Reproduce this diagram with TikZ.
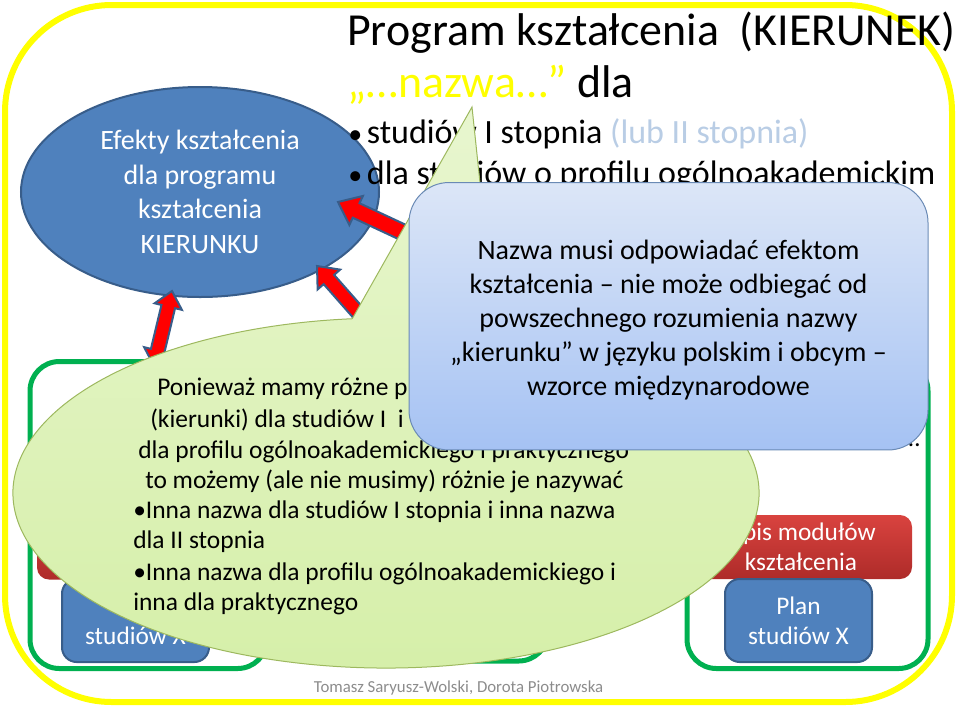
\documentclass[tikz,border=0pt]{standalone}
\usepackage{fontspec}
\setmainfont{Carlito}
\usetikzlibrary{calc,shapes.geometric}
\definecolor{sl-yellow}{HTML}{FFFF00}
\definecolor{sl-green}{HTML}{00B050}
\definecolor{sl-blue}{HTML}{4F81BD}
\definecolor{sl-blueedge}{HTML}{385D8A}
\definecolor{sl-red}{HTML}{FF0000}
\definecolor{sl-redtop}{HTML}{D9433F}
\definecolor{sl-redbot}{HTML}{AE2B29}
\definecolor{sl-calltop}{HTML}{DCE6F7}
\definecolor{sl-callbot}{HTML}{A5C2F3}
\definecolor{sl-calledge}{HTML}{6A8AB5}
\definecolor{sl-limetop}{HTML}{E8F6CF}
\definecolor{sl-limebot}{HTML}{D5EFA8}
\definecolor{sl-limeedge}{HTML}{9DB85E}
\definecolor{sl-grey}{HTML}{8C8C8C}
\definecolor{sl-pale}{HTML}{B9CDE5}

% double block arrow: start, end, shaft half width, head half width, head length
\newcommand{\dblarrow}[5]{%
  \coordinate (ha) at ($(#1)!#5!(#2)$);
  \coordinate (hb) at ($(#2)!#5!(#1)$);
  \draw[redarrow] (#1) -- ($(ha)!#4!90:(#2)$) -- ($(ha)!#3!90:(#2)$)
    -- ($(hb)!#3!-90:(#1)$) -- ($(hb)!#4!-90:(#1)$) -- (#2)
    -- ($(hb)!#4!90:(#1)$) -- ($(hb)!#3!90:(#1)$)
    -- ($(ha)!#3!-90:(#2)$) -- ($(ha)!#4!-90:(#2)$) -- cycle;}
\newcommand{\bigdot}{\makebox[14pt][l]{\fontsize{21}{21}\selectfont•}}

\begin{document}
\begin{tikzpicture}[
  x=0.75pt,y=-0.75pt,
  grnbox/.style={draw=sl-green,line width=3.75pt,rounded corners=22pt,inner sep=0},
  modbox/.style={top color=sl-redtop,bottom color=sl-redbot,rounded corners=9pt,
                 minimum width=166.5pt,minimum height=48pt,inner sep=0,align=center,
                 text=white,font=\fontsize{19}{22.5}\selectfont},
  planbox/.style={fill=sl-blue,draw=sl-blueedge,line width=1.5pt,rounded corners=11pt,
                  minimum width=110.25pt,minimum height=62.25pt,inner sep=0,align=center,
                  text=white,font=\fontsize{19}{22.5}\selectfont},
  redarrow/.style={fill=sl-red,draw=sl-blueedge,line width=1.5pt,line join=miter},
  headline/.style={anchor=base west,inner sep=0,font=\fontsize{34.4}{40}\selectfont},
  bulletline/.style={anchor=base west,inner sep=0,font=\fontsize{25.5}{30}\selectfont},
  limetext/.style={anchor=base west,inner sep=0,font=\fontsize{19.1}{23}\selectfont}
]
\useasboundingbox (0,0) rectangle (960,708);

% frame and the three programme columns
\draw[sl-yellow,line width=4.5pt,rounded corners=80pt] (5,5) rectangle (952,702);
\node[grnbox,minimum width=177.75pt,minimum height=230.25pt] (colL) at (148.5,515) {};
\node[grnbox,minimum width=189.75pt,minimum height=225pt] (colM) at (421.5,511) {};
\node[grnbox,minimum width=180.75pt,minimum height=230.25pt] (colR) at (807.5,515) {};

\node[modbox] (opisL) at (148,547.5) {};
\node[planbox] (planL) at (135.5,620.5) {\phantom{Plan}\\studiów X};
\node[modbox] (opisR) at (801,547) {Opis modułów\\kształcenia};
\node[planbox] (planR) at (798.5,620.5) {Plan\\studiów X};
\node[anchor=base east,inner sep=0,font=\fontsize{19}{22}\selectfont] (dots) at (920,446) {…};

% learning outcomes
\node[ellipse,fill=sl-blue,draw=sl-blueedge,line width=1.5pt,minimum width=268.5pt,
      minimum height=157.5pt,inner sep=0,align=center,text=white,
      font=\fontsize{21}{25.9}\selectfont] (kier) at (200,192)
     {Efekty kształcenia\\dla programu\\kształcenia\\KIERUNKU};

% title
\node[headline] (title) at (347,45) {Program kształcenia\ \ (KIERUNEK)};
\node[headline] (nazwa) at (347,97) {\textcolor{sl-yellow}{„…nazwa…”} dla};
\node[bulletline] (lvl1) at (348,143) {\bigdot studiów I stopnia \textcolor{sl-pale}{(lub II stopnia)}};
\node[bulletline] (lvl2) at (348,184) {\bigdot dla studiów o profilu ogólnoakademickim};

% links
\coordinate (a1top) at (172,291);
\coordinate (a1bot) at (154,366);
\coordinate (a2head) at (338,202);
\coordinate (a2end) at (672,358);
\coordinate (a3head) at (317,266);
\coordinate (a3end) at (398,358);
\dblarrow{a1top}{a1bot}{5.25pt}{10.5pt}{12pt}
\dblarrow{a2head}{a2end}{6pt}{12pt}{15pt}
\dblarrow{a3head}{a3end}{5.25pt}{11.25pt}{13.5pt}

% speech bubble
\coordinate (gc) at (386,493);
\coordinate (gtip) at (472,107);
\path[draw=sl-limeedge,line width=0.75pt,top color=sl-limetop,bottom color=sl-limebot]
  ($(gc)+(95.2:279.75pt and 131.25pt)$) -- (gtip) -- ($(gc)+(73:279.75pt and 131.25pt)$)
  arc[start angle=73,end angle=-264.8,x radius=279.75pt,y radius=131.25pt] -- cycle;

\node[limetext] (g1) at (157,395) {Ponieważ mamy różne p};
\node[limetext] (g2) at (150,427) {(kierunki) dla studiów I\ \ i};
\node[limetext] (g3) at (138,458) {dla profilu ogólnoakademickiego i praktycznego};
\node[limetext] (g4) at (145,488) {to możemy (ale nie musimy) różnie je nazywać};
\node[limetext] (g5) at (133,518) {•Inna nazwa dla studiów I stopnia i inna nazwa};
\node[limetext] (g6) at (133,548) {dla II stopnia};
\node[limetext] (g7) at (133,580) {•Inna nazwa dla profilu ogólnoakademickiego i};
\node[limetext] (g8) at (133,610) {inna dla praktycznego};

% name box
\node[draw=sl-calledge,line width=0.75pt,top color=sl-calltop,bottom color=sl-callbot,
      rounded corners=30pt,minimum width=389.25pt,minimum height=200.6pt,inner sep=0]
     (uwaga) at (668.5,316.25) {};
\node[align=center,inner sep=0,font=\fontsize{21}{25.5}\selectfont] (uwagatxt)
     at ($(uwaga)+(0,4)$)
     {Nazwa musi odpowiadać efektom\\kształcenia – nie może odbiegać od\\powszechnego rozumienia nazwy\\„kierunku” w języku polskim i obcym –\\wzorce międzynarodowe};

\node[anchor=base,inner sep=0,text=sl-grey,font=\fontsize{12.6}{15}\selectfont] (autorzy)
     at (458.5,692) {Tomasz Saryusz-Wolski, Dorota Piotrowska};
\end{tikzpicture}
\end{document}
